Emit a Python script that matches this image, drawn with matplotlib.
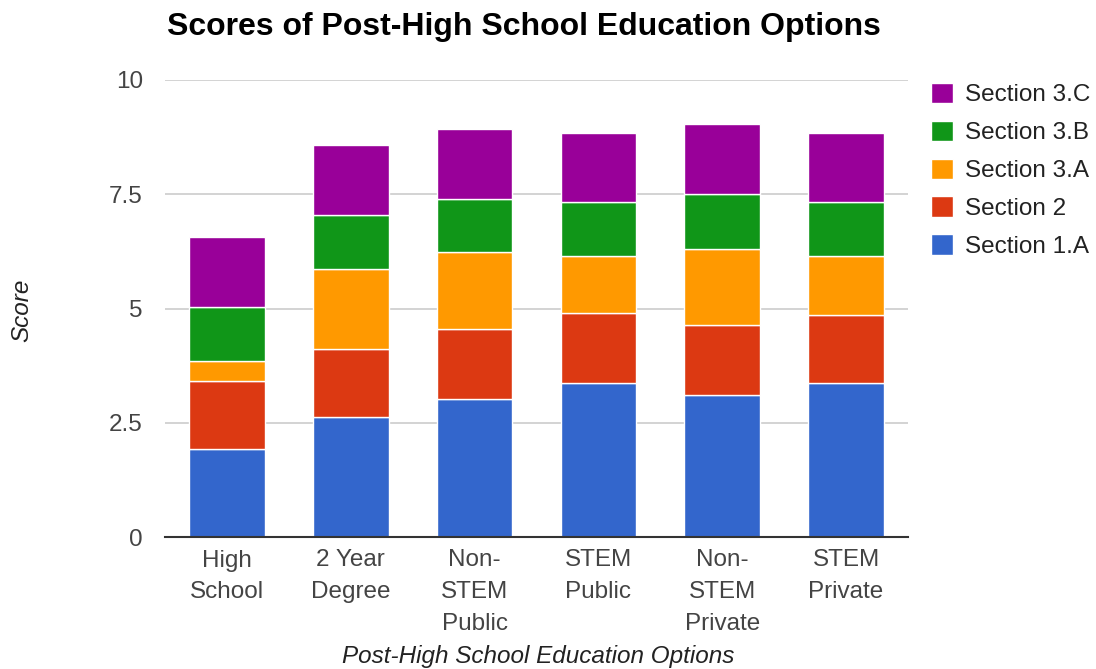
import matplotlib
matplotlib.use("Agg")
import matplotlib.pyplot as plt
from matplotlib.patches import Patch
import numpy as np

categories = ["High\nSchool", "2 Year\nDegree", "Non-\nSTEM\nPublic", "STEM\nPublic", "Non-\nSTEM\nPrivate", "STEM\nPrivate"]
series_names = ["Section 1.A", "Section 2", "Section 3.A", "Section 3.B", "Section 3.C"]
section_1a = [1.92, 2.63, 3.02, 3.37, 3.10, 3.37]
section_2 = [1.50, 1.49, 1.54, 1.53, 1.54, 1.49]
section_3a = [0.43, 1.75, 1.67, 1.24, 1.67, 1.28]
section_3b = [1.18, 1.18, 1.17, 1.18, 1.19, 1.18]
section_3c = [1.53, 1.53, 1.53, 1.53, 1.53, 1.53]
colors = ["#3366cc", "#dc3912", "#ff9900", "#109618", "#990099"]
yticks = [0, 2.5, 5, 7.5, 10]
ytick_labels = ["0", "2.5", "5", "7.5", "10"]

plt.rcParams['font.family'] = ['Liberation Sans', 'DejaVu Sans']

fig = plt.figure(figsize=(10.96, 6.69), dpi=100)
ax = fig.add_axes([165/1096, 1-537/669, (908-165)/1096, (537-80)/669])

x = np.arange(len(categories))
bottom = np.zeros(len(categories))
handles = []
for name, vals, c in zip(series_names, [section_1a, section_2, section_3a, section_3b, section_3c], colors):
    ax.bar(x, vals, 0.61, bottom=bottom, color=c, edgecolor="white", linewidth=1.0, zorder=3)
    bottom += np.array(vals)
    handles.append(Patch(facecolor=c, edgecolor="white"))

ax.set_xlim(-0.5, len(categories) - 0.5)
ax.set_ylim(0, 10)
ax.set_yticks(yticks)
ax.set_yticklabels(ytick_labels)
ax.set_xticks(x)
ax.set_xticklabels(categories, linespacing=1.58, va="top")
ax.tick_params(axis="both", length=0, labelsize=17.5, colors="#444444")
ax.tick_params(axis="y", pad=16)
ax.tick_params(axis="x", pad=9)
ax.grid(axis="y", color="#cccccc", linewidth=1.2, zorder=0)
for s in ["top", "right", "left"]:
    ax.spines[s].set_visible(False)
ax.spines["bottom"].set_color("#333333")
ax.spines["bottom"].set_linewidth(1.5)
ax.spines["bottom"].set_zorder(4)

fig.text(524/1096, 1-27/669, "Scores of Post-High School Education Options", ha="center", va="center",
         fontsize=23, fontweight="bold", color="#000000")
fig.text(22/1096, 1-310/669, "Score", rotation=90, ha="center", va="center", fontsize=17.5,
         fontstyle="italic", color="#222222")
fig.text(538/1096, 1-657/669, "Post-High School Education Options", ha="center", va="center", fontsize=17.5,
         fontstyle="italic", color="#222222")

leg = fig.legend(handles[::-1], series_names[::-1], loc="upper left",
                 bbox_to_anchor=(909/1096, 1-61/669), frameon=False, fontsize=17.5,
                 handlelength=0.92, handleheight=0.92, labelspacing=0.585, handletextpad=0.5)
for t in leg.get_texts():
    t.set_color("#222222")

fig.savefig("out.png", dpi=100, facecolor="white")
